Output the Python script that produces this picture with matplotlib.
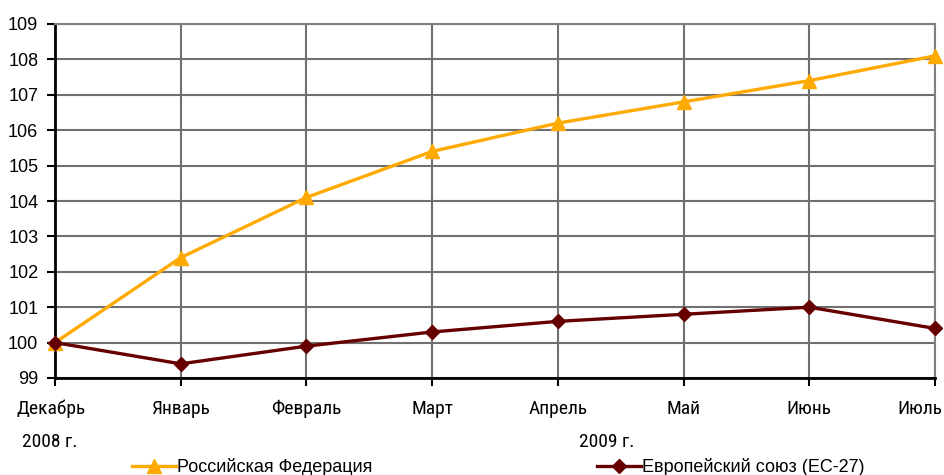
import matplotlib
matplotlib.use("Agg")
import matplotlib.pyplot as plt
from matplotlib import font_manager
from matplotlib.lines import Line2D

months = ["Декабрь", "Январь", "Февраль", "Март", "Апрель", "Май", "Июнь", "Июль"]
russia = [100.0, 102.4, 104.1, 105.4, 106.2, 106.8, 107.4, 108.1]
eu27 = [100.0, 99.4, 99.9, 100.3, 100.6, 100.8, 101.0, 100.4]
years = ["2008 г.", "2009 г."]

# narrow font for the category labels, if one is installed
names = {(f.name, f.stretch) for f in font_manager.fontManager.ttflist}
NARROW = dict(family=["Liberation Sans", "DejaVu Sans"], fontsize=12)
for fam in ["Liberation Sans Narrow", "Arial Narrow", "Roboto Condensed",
            "Open Sans Condensed", "DejaVu Sans Condensed"]:
    if any(n == fam for n, _ in names):
        NARROW = dict(family=[fam, "DejaVu Sans"], fontsize=14)
        break
else:
    for n, st in names:
        if n in ("DejaVu Sans", "Roboto", "Open Sans", "Noto Sans") and \
                str(st) in ("condensed", "semi-condensed", "75", "87.5"):
            NARROW = dict(family=[n, "DejaVu Sans"], stretch=st, fontsize=14)
            break

REGULAR = ["Liberation Sans", "DejaVu Sans"]
ORANGE = "#FFAA00"
DARKRED = "#660000"

fig = plt.figure(figsize=(9.45, 4.75), dpi=100)
ax = fig.add_axes([55 / 945, 1 - 378 / 475, 880 / 945, 354 / 475])

x = list(range(len(months)))
ax.plot(x, russia, color=ORANGE, lw=2.4, marker="^", ms=9.5, clip_on=False, zorder=3)
ax.plot(x, eu27, color=DARKRED, lw=2.4, marker="D", ms=7, clip_on=False, zorder=4)

ax.set_xlim(0, len(months) - 1)
ax.set_ylim(99, 109)
ax.set_yticks(range(99, 110))
ax.set_xticks(x)
ax.set_xticklabels([])
for t in ax.get_yticklabels():
    t.set_family(REGULAR)
    t.set_fontsize(13)

# category labels; the first and last are nudged inwards like in the original
shift = [-0.03] + [0] * (len(months) - 2) + [-0.12]
for i, (m, s) in enumerate(zip(months, shift)):
    ax.text(i + s, -0.087, m, transform=ax.get_xaxis_transform(),
            ha="center", va="center", **NARROW)
ax.text(-0.04, -0.18, years[0], transform=ax.get_xaxis_transform(),
        ha="center", va="center", **NARROW)
ax.text(4.39, -0.18, years[1], transform=ax.get_xaxis_transform(),
        ha="center", va="center", **NARROW)

ax.grid(True, color="#707070", lw=1.5)
ax.set_axisbelow(True)
for side in ["top", "right"]:
    ax.spines[side].set_color("#808080")
    ax.spines[side].set_linewidth(1.5)
for side in ["left", "bottom"]:
    ax.spines[side].set_color("black")
    ax.spines[side].set_linewidth(2)
ax.tick_params(axis="y", length=6, width=1.5, pad=6)
ax.tick_params(axis="x", length=6, width=1.5)

handles = [
    Line2D([], [], color=ORANGE, lw=2.4, marker="^", ms=9.5),
    Line2D([], [], color=DARKRED, lw=2.4, marker="D", ms=7),
]
fig.legend(handles[:1], ["Российская Федерация"], loc="center left",
           bbox_to_anchor=(116 / 945, 1 - 467 / 475), frameon=False,
           prop={"family": REGULAR, "size": 13}, handlelength=2.4, handletextpad=0.1)
fig.legend(handles[1:], ["Европейский союз (ЕС-27)"], loc="center left",
           bbox_to_anchor=(581 / 945, 1 - 467 / 475), frameon=False,
           prop={"family": REGULAR, "size": 13}, handlelength=2.4, handletextpad=0.1)

fig.savefig("out.png", dpi=100)
